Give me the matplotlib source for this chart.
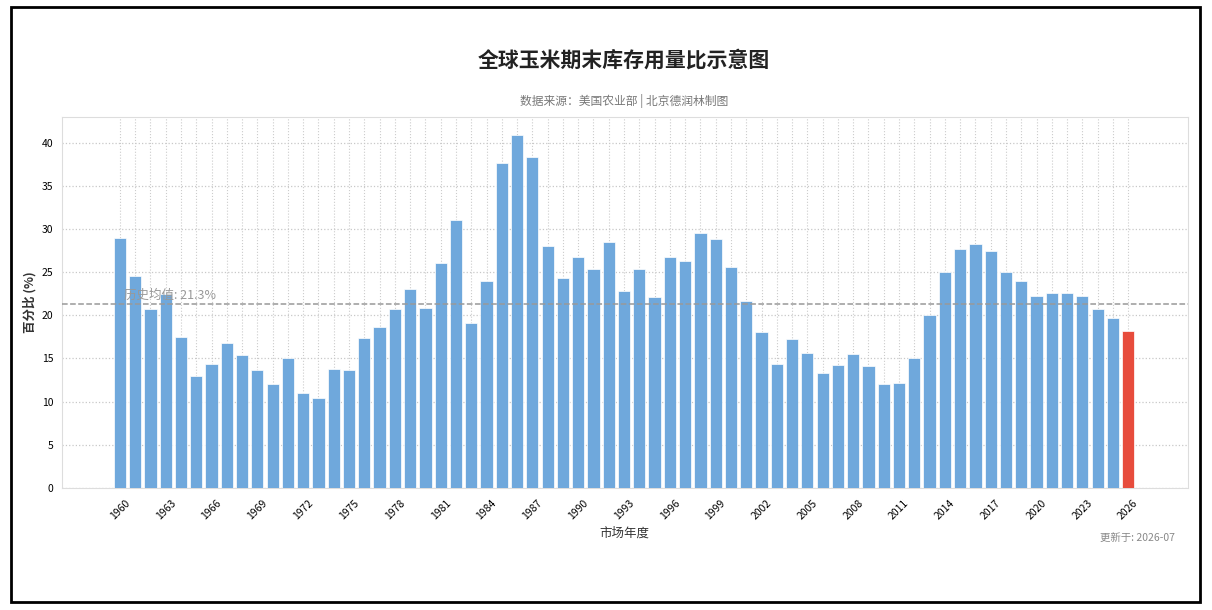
import numpy as np
import matplotlib
matplotlib.use('Agg')
import matplotlib.pyplot as plt
from matplotlib.patches import Rectangle

plt.rcParams['font.family'] = ['Noto Sans CJK SC', 'DejaVu Sans']
plt.rcParams['axes.unicode_minus'] = False

# market years and ending stocks-to-use ratio (%)
years = list(range(1960, 2027))
ratio = [
    29.0, 24.6, 20.7, 22.5, 17.5, 13.0, 14.4, 16.8, 15.4, 13.7,
    12.0, 15.0, 11.0, 10.4, 13.8, 13.7, 17.4, 18.7, 20.7, 23.1,
    20.9, 26.0, 31.0, 19.1, 24.0, 37.6, 40.9, 38.3, 28.0, 24.3,
    26.7, 25.4, 28.5, 22.8, 25.4, 22.1, 26.7, 26.3, 29.5, 28.8,
    25.6, 21.7, 18.1, 14.4, 17.2, 15.6, 13.3, 14.2, 15.5, 14.1,
    12.0, 12.2, 15.0, 20.0, 25.0, 27.7, 28.2, 27.4, 25.0, 24.0,
    22.2, 22.6, 22.6, 22.2, 20.7, 19.7, 18.2,
]
mean_val = 21.3
label_years = list(range(1960, 2027, 3))

title = '全球玉米期末库存用量比示意图'
subtitle = '数据来源：美国农业部 | 北京德润林制图'
updated = '更新于: 2026-07'

fig = plt.figure(figsize=(12.12, 6.10), dpi=100)
ax = fig.add_axes([0.051, 0.2, 0.929, 0.608])

x = np.arange(len(years))
colors = ['#6fa8dc'] * (len(years) - 1) + ['#e74c3c']
ax.bar(x, ratio, width=0.8, color=colors, edgecolor='white', linewidth=0.5, zorder=3)

# historical mean line
ax.axhline(mean_val, color='#999999', linestyle='--', linewidth=1.1, zorder=4)
ax.text(0.3, mean_val + 0.2, f'历史均值: {mean_val}%', color='#999999', fontsize=9,
        ha='left', va='bottom', zorder=5)

ax.set_xlim(-3.8, len(years) + 2.9)
ax.set_ylim(0, max(ratio) * 1.05)
ax.set_yticks(range(0, 41, 5))
ax.set_xticks(x, minor=True)
ax.set_xticks([years.index(y) for y in label_years])
ax.set_xticklabels([str(y) for y in label_years], rotation=45, ha='center', fontsize=7.5)
ax.tick_params(axis='y', labelsize=7.5, length=0, pad=6)
ax.tick_params(axis='x', which='both', length=0, pad=7)

ax.grid(True, axis='y', linestyle=':', color='#c8c8c8', linewidth=0.9, zorder=0)
ax.grid(True, axis='x', which='both', linestyle=':', color='#cccccc', linewidth=0.8, zorder=0)
for s in ax.spines.values():
    s.set_color('#dddddd')
    s.set_linewidth(0.8)

ax.set_ylabel('百分比 (%)', fontsize=9, fontweight='bold', color='#333333')
ax.set_xlabel('市场年度', fontsize=9, color='#333333', labelpad=4)

fig.text(0.515, 0.902, title, fontsize=15, fontweight='bold', ha='center', va='center', color='#222222')
fig.text(0.515, 0.834, subtitle, fontsize=8.5, ha='center', va='center', color='#777777')
fig.text(0.969, 0.118, updated, fontsize=7.5, ha='right', va='center', color='#888888')

# outer frame
fig.patches.append(Rectangle((0.009, 0.013), 0.981, 0.975, transform=fig.transFigure,
                             fill=False, edgecolor='black', linewidth=2))

fig.savefig('out.png', dpi=100)
